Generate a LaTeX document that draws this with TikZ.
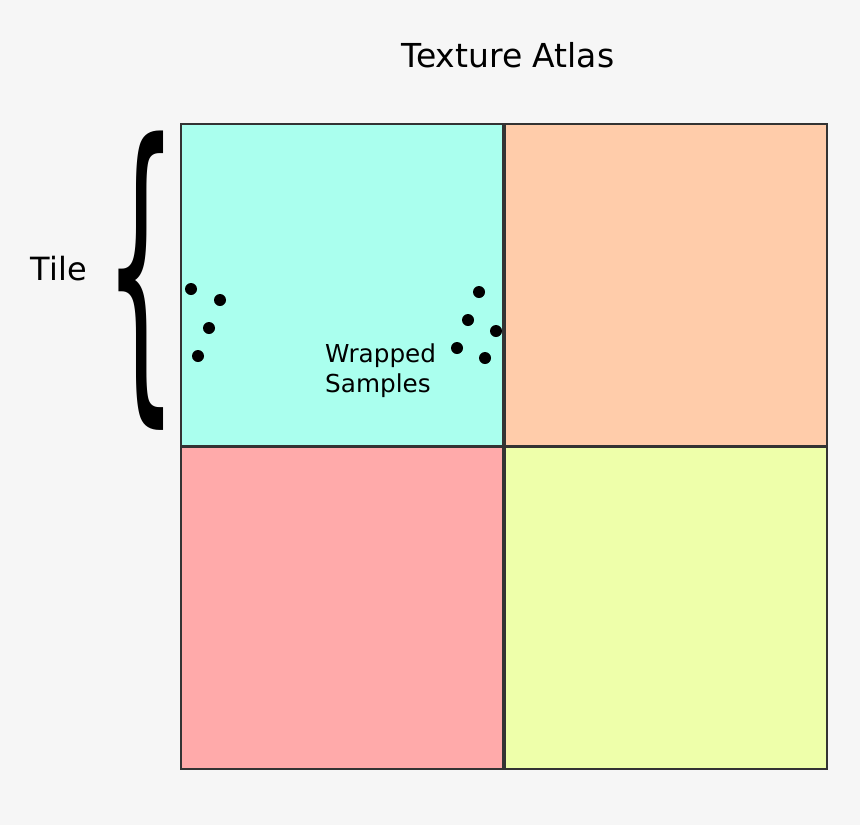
\documentclass[tikz,border=0pt]{standalone}
\usepackage{fontspec}
\setmainfont{DejaVu Sans}
\definecolor{bgcol}{HTML}{F6F6F6}
\definecolor{tilecyan}{HTML}{AAFFEE}
\definecolor{tileorange}{HTML}{FFCCAA}
\definecolor{tilered}{HTML}{FFAAAA}
\definecolor{tilelime}{HTML}{EEFFAA}
\begin{document}
\begin{tikzpicture}[
    x=1pt, y=-1pt,
    tile/.style={draw=black!80, line width=2.2pt, minimum size=322pt, inner sep=0pt, anchor=north west},
    sample/.style={circle, fill=black, minimum size=12pt, inner sep=0pt}
  ]
  \fill[bgcol] (0,0) rectangle (860,825);
  \useasboundingbox (0,0) rectangle (860,825);
  \node[font=\fontsize{33}{38}\selectfont] (title) at (508,55) {Texture Atlas};
  \node[tile, fill=tilecyan] (tl) at (180,123) {};
  \node[tile, fill=tileorange] (tr) at (504,123) {};
  \node[tile, fill=tilered] (bl) at (180,446) {};
  \node[tile, fill=tilelime] (br) at (504,446) {};
  % the brace, a stretched glyph
  \node[inner sep=0pt] (brace) at (141,281)
    {\scalebox{1.05}[2.95]{\fontsize{110}{110}\selectfont\{}};
  \node[font=\fontsize{32}{36}\selectfont] (tile) at (59,269) {Tile};
  \node[font=\fontsize{24.7}{30}\selectfont, align=left, anchor=north west, inner sep=0pt] (wrap) at (325,344)
    {Wrapped\\Samples};
  \foreach \x/\y [count=\i] in {191/289, 220/300, 209/328, 198/356,
      479/292, 468/320, 496/331, 457/348, 485/358}
    \node[sample] (s\i) at (\x,\y) {};
\end{tikzpicture}
\end{document}
